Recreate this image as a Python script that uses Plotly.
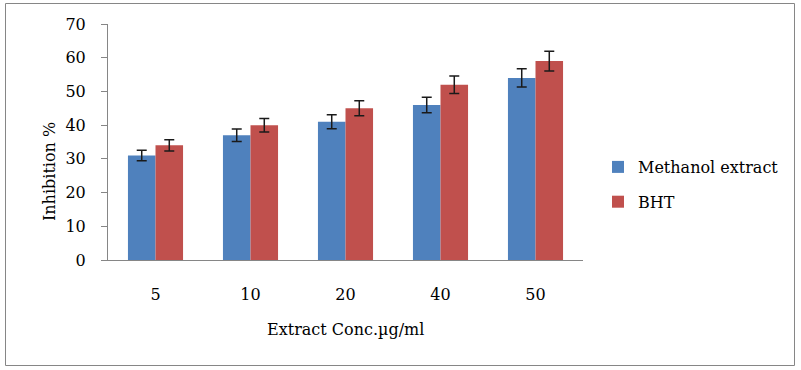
import plotly.graph_objects as go

categories = ["5", "10", "20", "40", "50"]
methanol = [31, 37, 41, 46, 54]
methanol_err = [1.55, 1.85, 2.05, 2.3, 2.7]
bht = [34, 40, 45, 52, 59]
bht_err = [1.7, 2.0, 2.25, 2.6, 2.95]
y_ticks = [0, 10, 20, 30, 40, 50, 60, 70]

FONT = "DejaVu Serif"
GRAY = "#868686"

# plot area in pixels
L, R, T, B = 108, 583, 24, 260
W, H = 801, 370
pw, ph = R - L, B - T

def px(x):
    return (x - L) / pw

def py(y):
    return (B - y) / ph

fig = go.Figure()
fig.add_trace(go.Bar(
    name="Methanol extract", x=categories, y=methanol, marker_color="#4F81BD",
    marker_line_width=0, legendgroup="a",
    error_y=dict(type="data", array=methanol_err, color="#1a1a1a", thickness=1.5, width=5),
))
fig.add_trace(go.Bar(
    name="BHT", x=categories, y=bht, marker_color="#C0504D",
    marker_line_width=0, legendgroup="b",
    error_y=dict(type="data", array=bht_err, color="#1a1a1a", thickness=1.5, width=5),
))

fig.update_layout(
    width=W, height=H,
    margin=dict(l=L, r=W - R, t=T, b=H - B),
    paper_bgcolor="white", plot_bgcolor="white",
    barmode="group", bargap=0.42, bargroupgap=0,
    font=dict(family=FONT, size=16, color="black"),
    showlegend=True,
    legend=dict(x=px(598), y=py(150), xanchor="left", yanchor="top",
                tracegroupgap=11, traceorder="grouped",
                font=dict(family=FONT, size=16, color="black"),
                bgcolor="rgba(0,0,0,0)"),
    xaxis=dict(showline=True, linecolor=GRAY, linewidth=1, ticks="",
               showgrid=False, zeroline=False, ticklabelstandoff=20,
               tickfont=dict(family=FONT, size=16, color="black")),
    yaxis=dict(range=[0, 70], tickvals=y_ticks, showline=True, linecolor=GRAY, linewidth=1,
               ticks="outside", ticklen=6, tickcolor=GRAY, showgrid=False, zeroline=False,
               ticklabelstandoff=12,
               tickfont=dict(family=FONT, size=16, color="black")),
    shapes=[dict(type="rect", xref="paper", yref="paper",
                 x0=px(5.5), x1=px(794.5), y0=py(365.5), y1=py(3.5),
                 line=dict(color=GRAY, width=1), fillcolor="rgba(0,0,0,0)", layer="below")],
    annotations=[
        dict(text="Extract Conc.µg/ml", xref="paper", yref="paper", x=0.5, y=py(329),
             xanchor="center", yanchor="middle", showarrow=False,
             font=dict(family=FONT, size=16, color="black")),
        dict(text="Inhibition %", xref="paper", yref="paper", x=px(49), y=py(172),
             xanchor="center", yanchor="middle", textangle=-90, showarrow=False,
             font=dict(family=FONT, size=16, color="black")),
    ],
)

fig.write_html("out.html", config={"displayModeBar": False},
               post_script="document.body.style.margin='0';document.body.style.overflow='hidden';")
